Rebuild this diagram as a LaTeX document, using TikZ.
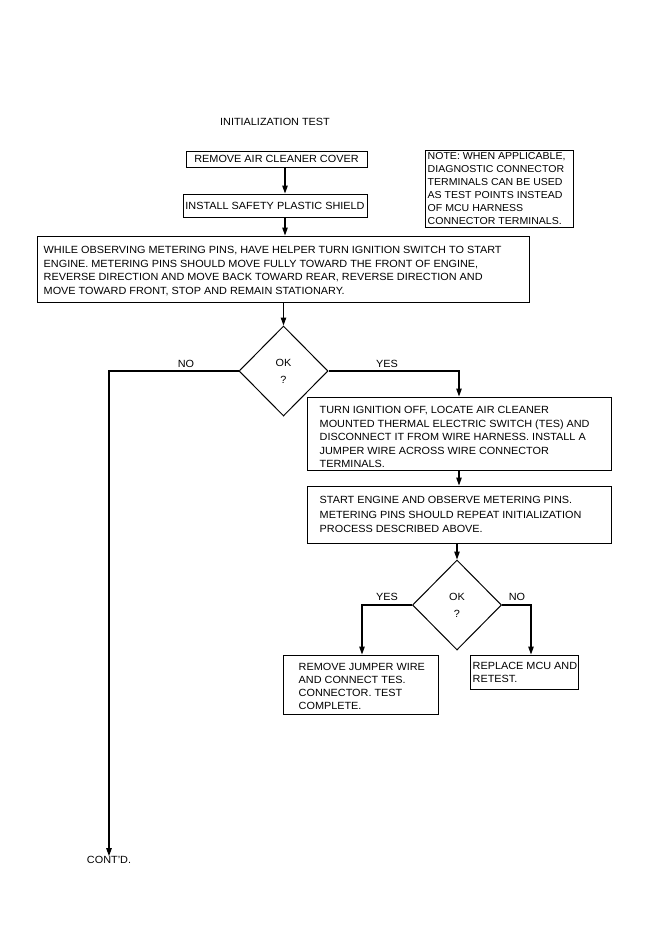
\documentclass[tikz,border=0pt]{standalone}
\usepackage{fontspec}
\setmainfont{Liberation Sans}[FakeStretch=1.045]
\usetikzlibrary{shapes.geometric,arrows.meta}
\tikzset{
  box/.style={draw, line width=1pt, rectangle, inner sep=0pt},
  txt/.style={inner sep=0pt, align=left, anchor=north west, font=\fontsize{10.4}{13.7}\selectfont},
  ctxt/.style={inner sep=0pt, font=\fontsize{10.4}{13.5}\selectfont},
  dia/.style={draw, line width=1pt, diamond, inner sep=0pt, minimum width=89pt, minimum height=90pt, align=center, font=\fontsize{10.4}{17}\selectfont},
  arr/.style={line width=1.1pt, -{Triangle[length=8pt,width=5.5pt]}},
}
\begin{document}
\begin{tikzpicture}[x=1pt,y=-1pt]
\useasboundingbox (0,0) rectangle (659,942);
\fill[white] (0,0) rectangle (659,942);

\node[ctxt] (title) at (275,122) {INITIALIZATION TEST};

\node[box, minimum width=181pt, minimum height=16pt, font=\fontsize{10.4}{13.5}\selectfont] (b1) at (276.5,159) {REMOVE AIR CLEANER COVER};
\node[box, minimum width=184pt, minimum height=23pt, font=\fontsize{10.4}{13.5}\selectfont] (b2) at (275,205.5) {INSTALL SAFETY PLASTIC SHIELD};

\node[box, minimum width=148pt, minimum height=77pt] (note) at (499,188.5) {};
\node[txt, font=\fontsize{10.1}{13}\selectfont] (notet) at ([shift={(3,3)}]note.north west) {NOTE: WHEN APPLICABLE,\\DIAGNOSTIC CONNECTOR\\TERMINALS CAN BE USED\\AS TEST POINTS INSTEAD\\OF MCU HARNESS\\CONNECTOR TERMINALS.};

\node[box, minimum width=492pt, minimum height=66pt] (b3) at (283,269) {};
\node[txt] (b3t) at ([shift={(7,10.5)}]b3.north west) {WHILE OBSERVING METERING PINS, HAVE HELPER TURN IGNITION SWITCH TO START\\ENGINE. METERING PINS SHOULD MOVE FULLY TOWARD THE FRONT OF ENGINE,\\REVERSE DIRECTION AND MOVE BACK TOWARD REAR, REVERSE DIRECTION AND\\MOVE TOWARD FRONT, STOP AND REMAIN STATIONARY.};

\node[dia] (d1) at (283.5,371) {OK\\?};

\node[box, minimum width=304pt, minimum height=73pt] (b4) at (459,433.5) {};
\node[txt, font=\fontsize{10.4}{13.5}\selectfont] (b4t) at ([shift={(13,10)}]b4.north west) {TURN IGNITION OFF, LOCATE AIR CLEANER\\MOUNTED THERMAL ELECTRIC SWITCH (TES) AND\\DISCONNECT IT FROM WIRE HARNESS. INSTALL A\\JUMPER WIRE ACROSS WIRE CONNECTOR\\TERMINALS.};

\node[box, minimum width=304pt, minimum height=57pt] (b5) at (459,514.5) {};
\node[txt, font=\fontsize{10.4}{14.2}\selectfont] (b5t) at ([shift={(13,11)}]b5.north west) {START ENGINE AND OBSERVE METERING PINS.\\METERING PINS SHOULD REPEAT INITIALIZATION\\PROCESS DESCRIBED ABOVE.};

\node[dia] (d2) at (457,605) {OK\\?};

\node[box, minimum width=155pt, minimum height=59pt] (b6) at (360.5,684.5) {};
\node[txt, font=\fontsize{10.4}{13}\selectfont] (b6t) at ([shift={(16,9)}]b6.north west) {REMOVE JUMPER WIRE\\AND CONNECT TES.\\CONNECTOR. TEST\\COMPLETE.};

\node[box, minimum width=108pt, minimum height=34pt] (b7) at (524,672) {};
\node[txt, font=\fontsize{10.4}{13}\selectfont] (b7t) at ([shift={(3,8)}]b7.north west) {REPLACE MCU AND\\RETEST.};

\node[ctxt] (cont) at (109,860) {CONT'D.};

\coordinate (ax) at (285,0);
\coordinate (yx) at (362,0);
\coordinate (nx) at (531,0);

\draw[arr] (b1.south -| ax) -- (b2.north -| ax);
\draw[arr] (b2.south -| ax) -- (b3.north -| ax);
\draw[arr] (b3.south -| d1.north) -- (d1.north);
\draw[arr] (d1.west) -| (cont.north);
\draw[arr] (d1.east) -| (b4.north);
\draw[arr] (b4.south) -- (b5.north);
\draw[arr] (b5.south -| d2.north) -- (d2.north);
\draw[arr] (d2.west) -| (b6.north -| yx);
\draw[arr] (d2.east) -| (b7.north -| nx);

\node[ctxt] (no1) at (186,364) {NO};
\node[ctxt] (yes1) at (387,364) {YES};
\node[ctxt] (yes2) at (387,597) {YES};
\node[ctxt] (no2) at (517,597) {NO};
\end{tikzpicture}
\end{document}
